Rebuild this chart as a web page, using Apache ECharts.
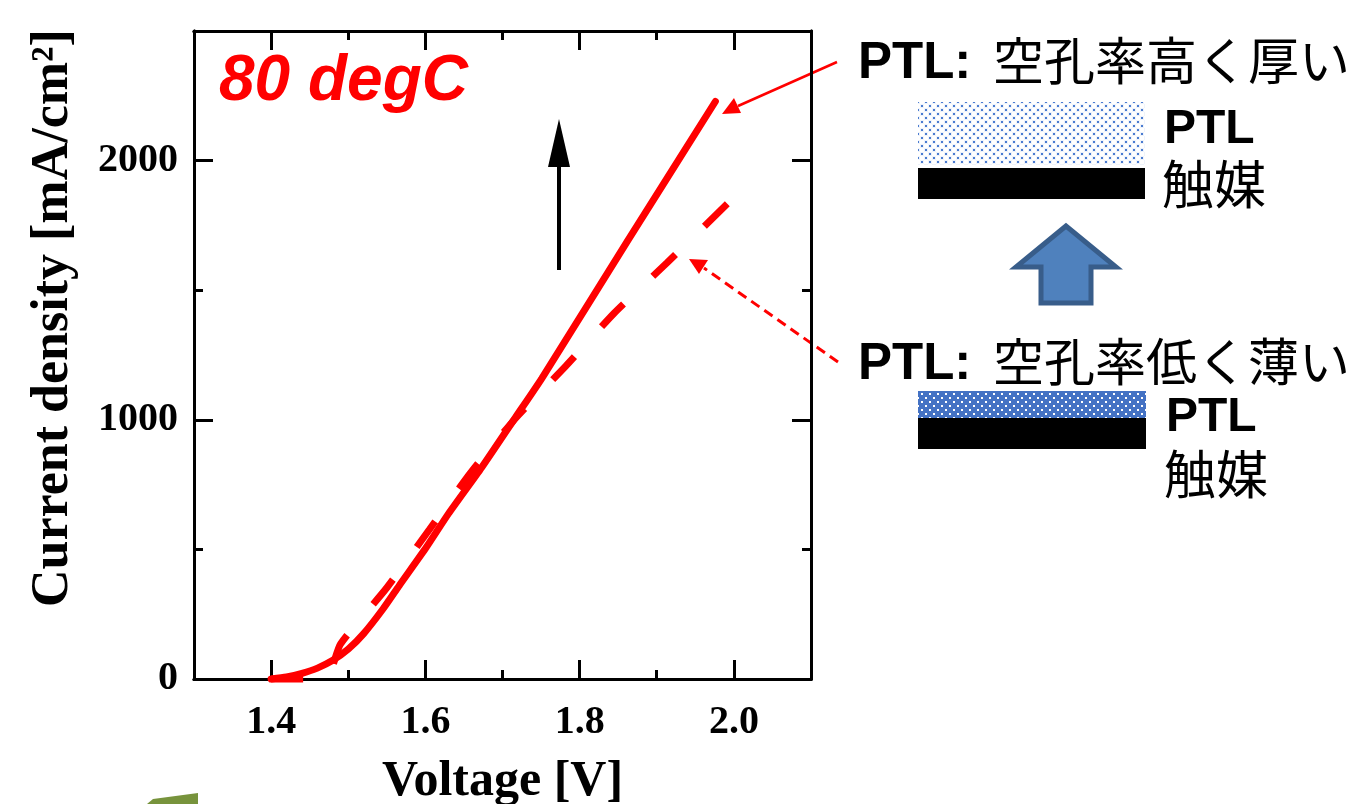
<!DOCTYPE html>
<html>
<head>
<meta charset="utf-8">
<script src="https://cdn.jsdelivr.net/npm/echarts@6/dist/echarts.min.js"></script>
<style>
  html, body { margin: 0; padding: 0; background: #fff; }
  #main { width: 1370px; height: 804px; }
</style>
</head>
<body>
<div id="main"></div>
<script>
// 高空孔率・厚いPTL (実線)
const voltsSolid   = [1.40, 1.42, 1.44, 1.46, 1.48, 1.50, 1.52, 1.545, 1.566, 1.601, 1.630, 1.673, 1.717, 1.751, 1.863, 1.976];
const currentSolid = [0,    8,    22,   42,   72,   115,  175,  270,   360,   507,   638,   816,   1010,  1160,  1694,  2228];
// 低空孔率・薄いPTL (破線)
const voltsDashed   = [1.40, 1.47, 1.49, 1.55, 1.605, 1.659, 1.717, 1.782, 1.845, 1.913, 1.993];
const currentDashed = [0,    0,    135,  352,  576,   797,   1006,  1207,  1412,  1605,  1838];

const xMajorTicks = [1.4, 1.6, 1.8, 2.0];
const xMinorTicks = [1.5, 1.7, 1.9];
const yMajorTicks = [0, 1000, 2000];
const yMinorTicks = [500, 1500];

const SERIF = 'Liberation Serif';
const SANS = 'Liberation Sans';
const CJK = 'Noto Sans CJK JP';

// ドットパターン (8px 周期、互い違い)
function dotPattern(bg, dot, halo) {
  const c = document.createElement('canvas');
  c.width = 8; c.height = 8;
  const g = c.getContext('2d');
  g.fillStyle = bg;
  g.fillRect(0, 0, 8, 8);
  if (halo) {
    g.fillStyle = halo;
    g.fillRect(0, 0, 4, 4);
    g.fillRect(4, 4, 4, 4);
  }
  g.fillStyle = dot;
  g.fillRect(1, 1, 2, 2);
  g.fillRect(5, 5, 2, 2);
  return { type: 'pattern', image: c, repeat: 'repeat' };
}

var myChart = echarts.init(document.getElementById('main'));

const axisBlack = { color: '#000', width: 3 };

function xAxisDef(grid, pos, ticks, len, main) {
  return {
    type: 'value', gridIndex: grid, position: pos,
    min: 1.3, max: 2.1, interval: 0.1,
    axisLine: { show: true, onZero: false, lineStyle: axisBlack },
    axisTick: { inside: true, length: len, customValues: ticks, lineStyle: axisBlack },
    axisLabel: main && pos === 'bottom' ? {
      customValues: xMajorTicks,
      formatter: v => v.toFixed(1),
      margin: 24,
      color: '#000', fontFamily: SERIF, fontWeight: 'bold', fontSize: 40
    } : { show: false },
    splitLine: { show: false },
    name: main && pos === 'bottom' ? 'Voltage [V]' : '',
    nameLocation: 'middle',
    nameGap: 78,
    nameTextStyle: { color: '#000', fontFamily: SERIF, fontWeight: 'bold', fontSize: 50 }
  };
}

function yAxisDef(grid, pos, ticks, len, main) {
  return {
    type: 'value', gridIndex: grid, position: pos,
    min: 0, max: 2500, interval: 500,
    axisLine: { show: true, onZero: false, lineStyle: axisBlack },
    axisTick: { inside: true, length: len, customValues: ticks, lineStyle: axisBlack },
    axisLabel: main && pos === 'left' ? {
      customValues: yMajorTicks,
      formatter: v => String(v),
      margin: 16,
      color: '#000', fontFamily: SERIF, fontWeight: 'bold', fontSize: 40
    } : { show: false },
    splitLine: { show: false },
    name: main && pos === 'left' ? 'Current density [mA/cm²]' : '',
    nameLocation: 'middle',
    nameGap: 114,
    nameTextStyle: { color: '#000', fontFamily: SERIF, fontWeight: 'bold', fontSize: 52, padding: [0, 0, 0, 74] }
  };
}

const gridBox = { left: 194, right: 559, top: 31, bottom: 125, outerBoundsMode: 'none', containLabel: false };

const option = {
  backgroundColor: '#fff',
  animation: false,
  grid: [Object.assign({}, gridBox), Object.assign({}, gridBox)],
  xAxis: [
    xAxisDef(0, 'bottom', xMajorTicks, 19, true),
    xAxisDef(0, 'top', xMajorTicks, 19, true),
    xAxisDef(1, 'bottom', xMinorTicks, 9, false),
    xAxisDef(1, 'top', xMinorTicks, 9, false)
  ],
  yAxis: [
    yAxisDef(0, 'left', yMajorTicks, 19, true),
    yAxisDef(0, 'right', yMajorTicks, 19, true),
    yAxisDef(1, 'left', yMinorTicks, 9, false),
    yAxisDef(1, 'right', yMinorTicks, 9, false)
  ],
  series: [
    {
      name: '空孔率高く厚い',
      type: 'line',
      xAxisIndex: 0, yAxisIndex: 0,
      data: voltsSolid.map((v, i) => [v, currentSolid[i]]),
      showSymbol: false,
      smooth: 0.2,
      clip: false,
      z: 5,
      lineStyle: { color: '#ff0000', width: 7, cap: 'round' }
    },
    {
      name: '空孔率低く薄い',
      type: 'line',
      xAxisIndex: 0, yAxisIndex: 0,
      data: voltsDashed.map((v, i) => [v, currentDashed[i]]),
      showSymbol: false,
      smooth: 0.2,
      clip: false,
      z: 5,
      lineStyle: { color: '#ff0000', width: 7, type: [32, 40], dashOffset: 0, cap: 'butt' }
    }
  ],
  graphic: [
    // 温度ラベル
    { type: 'text', left: 219, top: 50, style: { text: '80 degC', fill: '#ff0000', font: 'italic bold 64px ' + SANS } },
    // 黒矢印
    { type: 'line', shape: { x1: 559, y1: 270, x2: 559, y2: 160 }, style: { stroke: '#000', lineWidth: 4 } },
    { type: 'polygon', shape: { points: [[559, 119], [548, 167], [570, 167]] }, style: { fill: '#000' } },
    // 赤い実線矢印
    { type: 'line', shape: { x1: 837, y1: 62, x2: 738, y2: 106 }, style: { stroke: '#ff0000', lineWidth: 2.5 } },
    { type: 'polygon', shape: { points: [[722, 114], [734, 98], [741, 113]] }, style: { fill: '#ff0000' } },
    // 赤い破線矢印
    { type: 'line', shape: { x1: 838, y1: 362, x2: 704, y2: 268 }, style: { stroke: '#ff0000', lineWidth: 3, lineDash: [10, 6] } },
    { type: 'polygon', shape: { points: [[689, 259], [708, 260], [699, 274]] }, style: { fill: '#ff0000' } },
    // 上段テキスト
    { type: 'text', left: 858, top: 38, style: { text: 'PTL:', fill: '#000', font: 'bold 51px ' + SANS } },
    { type: 'text', left: 993, top: 35, style: { text: '空孔率高く厚い', fill: '#000', font: '51px "' + CJK + '"' } },
    { type: 'rect', shape: { x: 918, y: 102, width: 227, height: 63 }, style: { fill: dotPattern('#ffffff', '#4a7bd0', '#eef3fb') } },
    { type: 'rect', shape: { x: 918, y: 168, width: 227, height: 31 }, style: { fill: '#000' } },
    { type: 'text', left: 1164, top: 106, style: { text: 'PTL', fill: '#000', font: 'bold 48px ' + SANS } },
    { type: 'text', left: 1162, top: 158, style: { text: '触媒', fill: '#000', font: '52px "' + CJK + '"' } },
    // 青い上向き矢印
    {
      type: 'polygon',
      shape: { points: [[1066, 226], [1016, 267], [1041, 267], [1041, 303], [1091, 303], [1091, 267], [1116, 267]] },
      style: { fill: '#4f81bd', stroke: '#385d8a', lineWidth: 5, lineJoin: 'miter' }
    },
    // 下段テキスト
    { type: 'text', left: 858, top: 339, style: { text: 'PTL:', fill: '#000', font: 'bold 51px ' + SANS } },
    { type: 'text', left: 993, top: 336, style: { text: '空孔率低く薄い', fill: '#000', font: '51px "' + CJK + '"' } },
    { type: 'rect', shape: { x: 918, y: 391, width: 228, height: 27 }, style: { fill: dotPattern('#4472c4', '#ffffff') } },
    { type: 'rect', shape: { x: 918, y: 418, width: 228, height: 31 }, style: { fill: '#000' } },
    { type: 'text', left: 1166, top: 394, style: { text: 'PTL', fill: '#000', font: 'bold 48px ' + SANS } },
    { type: 'text', left: 1164, top: 448, style: { text: '触媒', fill: '#000', font: '52px "' + CJK + '"' } },
    // 左下の緑の図形の一部
    { type: 'polygon', shape: { points: [[147, 804], [153, 799], [198, 793], [198, 804]] }, style: { fill: '#77933c' } }
  ]
};

myChart.setOption(option);
</script>
</body>
</html>
